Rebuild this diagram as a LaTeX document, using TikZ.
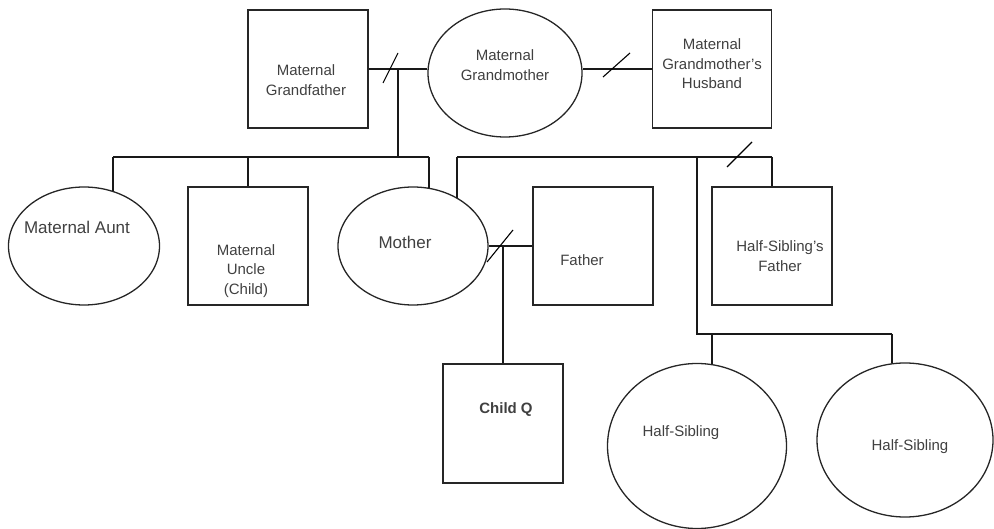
\documentclass[tikz,border=0pt]{standalone}
\usepackage{fontspec}
\setmainfont{Liberation Sans}
\usetikzlibrary{shapes.geometric}
\begin{document}
\begin{tikzpicture}[x=1pt,y=-1pt,
  box/.style={draw, rectangle, inner sep=0pt, minimum width=120pt, minimum height=118pt, line width=1.3pt, black!85},
  oval/.style={draw, ellipse, inner sep=0pt, line width=1.3pt, black!85},
  lbl/.style={font=\fontsize{15}{19.5}\selectfont, align=center, text=black!75, inner sep=0pt},
  biglbl/.style={font=\fontsize{17}{20}\selectfont, align=center, text=black!75, inner sep=0pt},
  link/.style={line width=1.3pt, black!90},
  cut/.style={line width=1.1pt, black}]
\useasboundingbox (0,0) rectangle (994,529);
% persons
\node[box] (gf) at (308,69) {};
\node[oval, minimum width=154pt, minimum height=128pt] (gm) at (505,73) {};
\node[box, minimum width=119pt] (gmh) at (712,69) {};
\node[oval, minimum width=151pt, minimum height=118pt] (aunt) at (84,246) {};
\node[box] (uncle) at (248,246) {};
\node[oval, minimum width=150pt, minimum height=118pt] (mother) at (413,246) {};
\node[box] (father) at (593,246) {};
\node[box] (hsf) at (772,246) {};
\node[box, minimum height=119pt] (childq) at (503,423.5) {};
\node[oval, minimum width=179pt, minimum height=165pt] (hs1) at (697,446) {};
\node[oval, minimum width=176pt, minimum height=154pt] (hs2) at (905,440) {};
% labels
\node[lbl] (gft) at (306,80) {Maternal\\Grandfather};
\node[lbl] (gmt) at (505,65) {Maternal\\Grandmother};
\node[lbl] (gmht) at (712,64) {Maternal\\Grandmother's\\Husband};
\node[biglbl] (auntt) at (77,227) {Maternal Aunt};
\node[lbl] (unclet) at (246,271) {Maternal\\Uncle\\(Child)};
\node[biglbl] (mothert) at (405,242) {Mother};
\node[lbl] (fathert) at (582,260) {Father};
\node[lbl] (hsft) at (780,256) {Half-Sibling's\\Father};
\node[lbl, font=\fontsize{15}{19.5}\selectfont\bfseries] (childqt) at (506,410) {Child Q};
\node[lbl] (hs1t) at (681,433) {Half-Sibling};
\node[lbl] (hs2t) at (910,447) {Half-Sibling};
% coordinates
\coordinate (m1) at (398,69);
\coordinate (s1) at (398,157);
\coordinate (sA) at (113,157);
\coordinate (sU) at (248,157);
\coordinate (sC) at (429,157);
\coordinate (m3) at (617,69);
\coordinate (m2) at (503,246);
\coordinate (sB1) at (457,157);
\coordinate (sB2) at (772,157);
\coordinate (sB3) at (697,157);
\coordinate (sX) at (740,157);
\coordinate (h1) at (697,334);
\coordinate (h3) at (712,334);
\coordinate (h2) at (892,334);
% grandparents
\draw[link] (gf.east) -- (gf.east -| gm.west);
\draw[cut] (m1) ++(-15,14) -- ++(15,-30);
\draw[link] (m1) -- (s1);
\draw[link] (gmh.west -| gm.east) -- (gmh.west);
\draw[cut] (m3) ++(-14,8) -- ++(27,-24);
% children of grandparents
\draw[link] (sA) -- (sC);
\draw[link] (sA) -- (sA |- aunt.62);
\draw[link] (sU) -- (uncle.north);
\draw[link] (sC) -- (sC |- mother.74.5);
% mother and father
\draw[link] (mother.east) -- (father.west);
\draw[link] (m2) -- (childq.north);
\draw[cut] (m2) ++(-16,16) -- ++(26,-32);
% mother and half-sibling's father
\draw[link] (sB1) -- (sB2);
\draw[link] (sB1) -- (sB1 |- mother.47.4);
\draw[link] (sB2) -- (hsf.north);
\draw[cut] (sX) ++(-13,10) -- ++(25,-25);
\draw[link] (sB3) -- (h1) -- (h2);
\draw[link] (h3) -- (h3 |- hs1.79.5);
\draw[link] (h2) -- (h2 |- hs2.99.7);
\end{tikzpicture}
\end{document}
